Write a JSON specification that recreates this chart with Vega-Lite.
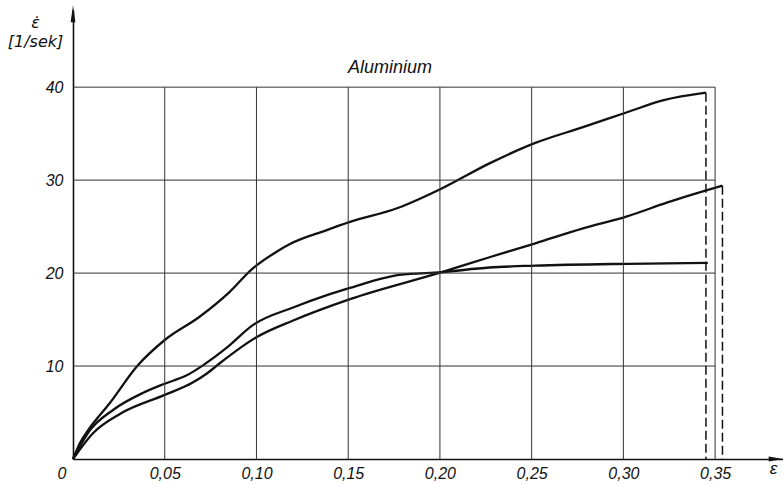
{
  "$schema": "https://vega.github.io/schema/vega-lite/v6.json",
  "width": 710,
  "height": 449,
  "autosize": "none",
  "padding": {"left": 73, "top": 10, "right": 0, "bottom": 25},
  "background": "white",
  "title": {
    "text": "Aluminium",
    "font": "Liberation Sans",
    "fontStyle": "italic",
    "fontWeight": "normal",
    "fontSize": 18,
    "color": "#111",
    "anchor": "middle",
    "frame": "group",
    "offset": 0,
    "dx": -38,
    "dy": 72
  },
  "config": {
    "view": {"stroke": null},
    "axis": {
      "labelFont": "Liberation Sans",
      "labelFontStyle": "italic",
      "labelFontSize": 16,
      "labelColor": "#111",
      "titleFont": "Liberation Sans",
      "titleFontStyle": "italic",
      "titleFontWeight": "normal",
      "titleColor": "#111",
      "domainColor": "#111",
      "domainWidth": 1.6,
      "grid": false,
      "ticks": false
    }
  },
  "datasets": {
    "curves": [
      {"series": "A", "e": 0, "v": 0},
      {"series": "A", "e": 0.004, "v": 1.8},
      {"series": "A", "e": 0.0093, "v": 3.4},
      {"series": "A", "e": 0.02, "v": 6.0},
      {"series": "A", "e": 0.035, "v": 10.0},
      {"series": "A", "e": 0.05, "v": 12.8},
      {"series": "A", "e": 0.069, "v": 15.3},
      {"series": "A", "e": 0.085, "v": 17.9},
      {"series": "A", "e": 0.098, "v": 20.5},
      {"series": "A", "e": 0.111, "v": 22.3},
      {"series": "A", "e": 0.118, "v": 23.1},
      {"series": "A", "e": 0.138, "v": 24.6},
      {"series": "A", "e": 0.151, "v": 25.5},
      {"series": "A", "e": 0.177, "v": 27.0},
      {"series": "A", "e": 0.201, "v": 29.1},
      {"series": "A", "e": 0.227, "v": 31.8},
      {"series": "A", "e": 0.252, "v": 34.0},
      {"series": "A", "e": 0.278, "v": 35.7},
      {"series": "A", "e": 0.302, "v": 37.3},
      {"series": "A", "e": 0.322, "v": 38.6},
      {"series": "A", "e": 0.345, "v": 39.4},
      {"series": "B", "e": 0, "v": 0},
      {"series": "B", "e": 0.011, "v": 2.8},
      {"series": "B", "e": 0.026, "v": 4.9},
      {"series": "B", "e": 0.05, "v": 6.9},
      {"series": "B", "e": 0.065, "v": 8.2},
      {"series": "B", "e": 0.073, "v": 9.2},
      {"series": "B", "e": 0.08, "v": 10.3},
      {"series": "B", "e": 0.1, "v": 13.1},
      {"series": "B", "e": 0.12, "v": 14.9},
      {"series": "B", "e": 0.151, "v": 17.2},
      {"series": "B", "e": 0.201, "v": 20.1},
      {"series": "B", "e": 0.227, "v": 21.7},
      {"series": "B", "e": 0.252, "v": 23.2},
      {"series": "B", "e": 0.278, "v": 24.8},
      {"series": "B", "e": 0.302, "v": 26.1},
      {"series": "B", "e": 0.324, "v": 27.6},
      {"series": "B", "e": 0.354, "v": 29.4},
      {"series": "C", "e": 0, "v": 0},
      {"series": "C", "e": 0.0093, "v": 3.1},
      {"series": "C", "e": 0.022, "v": 5.3},
      {"series": "C", "e": 0.038, "v": 7.1},
      {"series": "C", "e": 0.05, "v": 8.1},
      {"series": "C", "e": 0.062, "v": 9.0},
      {"series": "C", "e": 0.071, "v": 10.1},
      {"series": "C", "e": 0.084, "v": 12.0},
      {"series": "C", "e": 0.098, "v": 14.4},
      {"series": "C", "e": 0.12, "v": 16.3},
      {"series": "C", "e": 0.138, "v": 17.6},
      {"series": "C", "e": 0.151, "v": 18.4},
      {"series": "C", "e": 0.178, "v": 19.8},
      {"series": "C", "e": 0.201, "v": 20.1},
      {"series": "C", "e": 0.227, "v": 20.6},
      {"series": "C", "e": 0.252, "v": 20.8},
      {"series": "C", "e": 0.302, "v": 21.0},
      {"series": "C", "e": 0.346, "v": 21.1}
    ],
    "vgrid": [{"e": 0.05}, {"e": 0.1}, {"e": 0.15}, {"e": 0.2}, {"e": 0.25}, {"e": 0.3}, {"e": 0.35}],
    "hgrid": [{"v": 10}, {"v": 20}, {"v": 30}, {"v": 40}],
    "drops": [{"e": 0.345, "v": 39.4}, {"e": 0.354, "v": 29.4}],
    "yarrow": [{"e": 0, "v": 47.9}],
    "xarrow": [{"e": 0.3833, "v": 0}]
  },
  "layer": [
    {
      "data": {"name": "curves"},
      "mark": {"type": "line", "color": "#111", "strokeWidth": 2.3, "interpolate": "monotone"},
      "encoding": {
        "x": {
          "field": "e",
          "type": "quantitative",
          "scale": {"domain": [0, 0.387], "nice": false, "zero": false},
          "axis": {
            "values": [0, 0.05, 0.1, 0.15, 0.2, 0.25, 0.3, 0.35],
            "labelExpr": "datum.value == 0 ? '0' : replace(format(datum.value, '.2f'), '.', ',')",
            "labelPadding": 6,
            "labelOffset": {"condition": {"test": "datum.value == 0", "value": -16}, "value": 0},
            "title": "ε",
            "titleFontSize": 17,
            "titleX": 700,
            "titleY": 14,
            "titleAlign": "center",
            "titleBaseline": "alphabetic",
            "titleAngle": 0
          }
        },
        "y": {
          "field": "v",
          "type": "quantitative",
          "scale": {"domain": [0, 48.3], "nice": false, "zero": false},
          "axis": {
            "values": [10, 20, 30, 40],
            "labelPadding": 10,
            "title": ["ε̇", "[1/sek]"],
            "titleFont": "DejaVu Sans",
            "titleFontSize": 16,
            "titleLineHeight": 19,
            "titleX": -38,
            "titleY": 17,
            "titleAngle": 0,
            "titleAlign": "center",
            "titleBaseline": "alphabetic"
          }
        },
        "detail": {"field": "series"}
      }
    },
    {
      "data": {"name": "vgrid"},
      "mark": {"type": "rule", "color": "#333", "strokeWidth": 1},
      "encoding": {
        "x": {"field": "e", "type": "quantitative"},
        "y": {"datum": 0},
        "y2": {"datum": 40}
      }
    },
    {
      "data": {"name": "hgrid"},
      "mark": {"type": "rule", "color": "#333", "strokeWidth": 1},
      "encoding": {
        "y": {"field": "v", "type": "quantitative"},
        "x": {"datum": 0},
        "x2": {"datum": 0.35}
      }
    },
    {
      "data": {"name": "drops"},
      "mark": {"type": "rule", "color": "#111", "strokeWidth": 1.5, "strokeDash": [9, 4]},
      "encoding": {
        "x": {"field": "e", "type": "quantitative"},
        "y": {"field": "v", "type": "quantitative"},
        "y2": {"datum": 0}
      }
    },
    {
      "data": {"name": "yarrow"},
      "mark": {"type": "point", "filled": true, "color": "#111", "opacity": 1, "shape": "M0,-1L0.28,1L-0.28,1Z", "size": 289},
      "encoding": {
        "x": {"field": "e", "type": "quantitative"},
        "y": {"field": "v", "type": "quantitative"}
      }
    },
    {
      "data": {"name": "xarrow"},
      "mark": {"type": "point", "filled": true, "color": "#111", "opacity": 1, "shape": "M1,0L-1,0.32L-1,-0.32Z", "size": 225},
      "encoding": {
        "x": {"field": "e", "type": "quantitative"},
        "y": {"field": "v", "type": "quantitative"}
      }
    }
  ]
}
